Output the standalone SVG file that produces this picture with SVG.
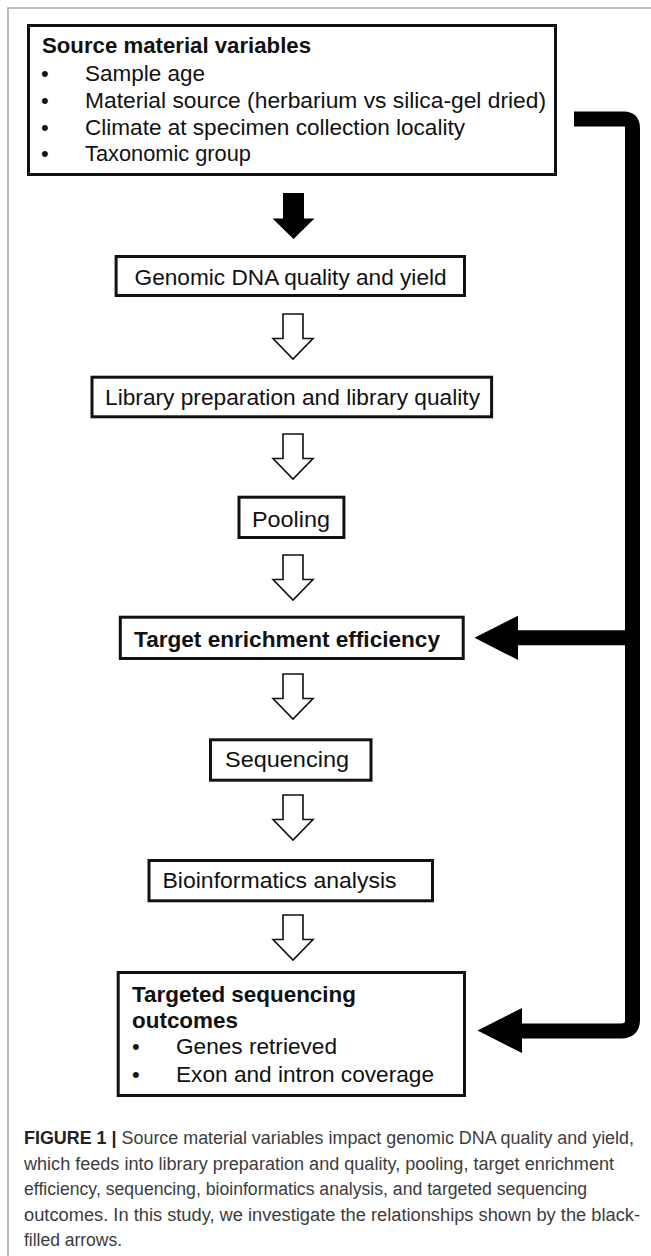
<svg xmlns="http://www.w3.org/2000/svg" xmlns:xlink="http://www.w3.org/1999/xlink" width="651" height="1256" viewBox="0 0 651 1256">
<style>
.box{fill:#fff;stroke:#111;stroke-width:3}
.t{font-family:"Liberation Sans",Arial,sans-serif;font-size:22px;fill:#111}
.b{font-weight:bold}
.cap{font-family:"Liberation Sans",Arial,sans-serif;font-size:18px;fill:#3c3c3c}
.capb{font-weight:bold;fill:#222}
.hollow{fill:#fff;stroke:#111;stroke-width:1.6;stroke-linejoin:miter}
.solid{fill:#000}
.bar{fill:none;stroke:#000;stroke-width:15;stroke-linejoin:round}
</style>
<defs>
<path id="hollowArrow" class="hollow" d="M -10 0 H 10 V 24.5 H 20 L 0 45 L -20 24.5 H -10 Z"/>
</defs>
<rect width="651" height="1256" fill="#fff"/>
<path d="M 8 1256 V 8 H 651" fill="none" stroke="#a8a8a8" stroke-width="1.5"/>

<g id="node-source">
<rect class="box" x="28.5" y="25.5" width="527" height="149"/>
<text class="t b" x="42" y="53" textLength="269" lengthAdjust="spacingAndGlyphs">Source material variables</text>
<text class="t" x="41" y="81">•</text>
<text class="t" x="85" y="81" textLength="120" lengthAdjust="spacingAndGlyphs">Sample age</text>
<text class="t" x="41" y="108">•</text>
<text class="t" x="85" y="108" textLength="461" lengthAdjust="spacingAndGlyphs">Material source (herbarium vs silica-gel dried)</text>
<text class="t" x="41" y="135">•</text>
<text class="t" x="85" y="135" textLength="380" lengthAdjust="spacingAndGlyphs">Climate at specimen collection locality</text>
<text class="t" x="41" y="161">•</text>
<text class="t" x="85" y="161" textLength="166" lengthAdjust="spacingAndGlyphs">Taxonomic group</text>
</g>

<g id="node-genomic">
<rect class="box" x="116.1" y="256.5" width="348.4" height="39"/>
<text class="t" x="134.6" y="285" textLength="312" lengthAdjust="spacingAndGlyphs">Genomic DNA quality and yield</text>
</g>

<g id="node-library">
<rect class="box" x="92" y="377.2" width="399.6" height="39.6"/>
<text class="t" x="105" y="405" textLength="375" lengthAdjust="spacingAndGlyphs">Library preparation and library quality</text>
</g>

<g id="node-pooling">
<rect class="box" x="239" y="497.2" width="104.9" height="40.3"/>
<text class="t" x="252" y="526.5" textLength="78" lengthAdjust="spacingAndGlyphs">Pooling</text>
</g>

<g id="node-target">
<rect class="box" x="120.3" y="617.2" width="342.9" height="41.3"/>
<text class="t b" x="134" y="646.5" textLength="306" lengthAdjust="spacingAndGlyphs">Target enrichment efficiency</text>
</g>

<g id="node-sequencing">
<rect class="box" x="210.5" y="739.8" width="160.5" height="40.4"/>
<text class="t" x="225" y="766.5" textLength="124" lengthAdjust="spacingAndGlyphs">Sequencing</text>
</g>

<g id="node-bioinformatics">
<rect class="box" x="149" y="860.5" width="283.5" height="40.3"/>
<text class="t" x="162.5" y="888.3" textLength="234" lengthAdjust="spacingAndGlyphs">Bioinformatics analysis</text>
</g>

<g id="node-outcomes">
<rect class="box" x="118.2" y="972.5" width="346.3" height="123"/>
<text class="t b" x="132" y="1002" textLength="224" lengthAdjust="spacingAndGlyphs">Targeted sequencing</text>
<text class="t b" x="132" y="1028" textLength="106" lengthAdjust="spacingAndGlyphs">outcomes</text>
<text class="t" x="132" y="1054">•</text>
<text class="t" x="176" y="1054" textLength="161" lengthAdjust="spacingAndGlyphs">Genes retrieved</text>
<text class="t" x="132" y="1082">•</text>
<text class="t" x="176" y="1082" textLength="258" lengthAdjust="spacingAndGlyphs">Exon and intron coverage</text>
</g>

<g id="connectors">
<path class="solid" d="M 283 193 H 304 V 218.5 H 314.5 L 293.5 239 L 272.5 218.5 H 283 Z"/>
<use xlink:href="#hollowArrow" href="#hollowArrow" x="293" y="314"/>
<use xlink:href="#hollowArrow" href="#hollowArrow" x="293" y="434"/>
<use xlink:href="#hollowArrow" href="#hollowArrow" x="293" y="555"/>
<use xlink:href="#hollowArrow" href="#hollowArrow" x="293" y="674"/>
<use xlink:href="#hollowArrow" href="#hollowArrow" x="293" y="795"/>
<use xlink:href="#hollowArrow" href="#hollowArrow" x="293" y="915"/>
<path class="bar" d="M 574 119 H 624 Q 632.5 119 632.5 128 V 1020 Q 632.5 1031 621 1031 H 518"/>
<path class="bar" d="M 632.5 637.7 H 514" stroke-linejoin="miter"/>
<polygon class="solid" points="474.5,637.7 518,615.7 518,660"/>
<polygon class="solid" points="477.5,1030.5 522,1008 522,1053"/>
</g>

<g id="caption">
<text class="cap" x="24" y="1144" textLength="610" lengthAdjust="spacingAndGlyphs"><tspan class="capb">FIGURE 1 |</tspan> Source material variables impact genomic DNA quality and yield,</text>
<text class="cap" x="24" y="1169.5" textLength="590" lengthAdjust="spacingAndGlyphs">which feeds into library preparation and quality, pooling, target enrichment</text>
<text class="cap" x="24" y="1195" textLength="563" lengthAdjust="spacingAndGlyphs">efficiency, sequencing, bioinformatics analysis, and targeted sequencing</text>
<text class="cap" x="24" y="1220.5" textLength="616" lengthAdjust="spacingAndGlyphs">outcomes. In this study, we investigate the relationships shown by the black-</text>
<text class="cap" x="24" y="1246" textLength="98" lengthAdjust="spacingAndGlyphs">filled arrows.</text>
</g>
</svg>
